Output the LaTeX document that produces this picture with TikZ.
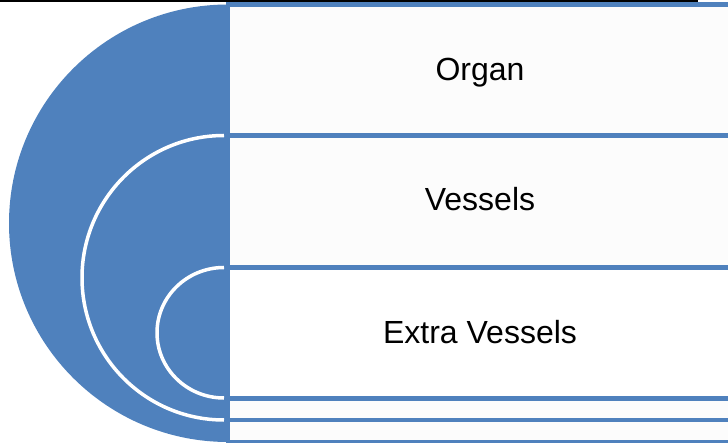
\documentclass[tikz,border=0pt]{standalone}
\usepackage{fontspec}
\setmainfont{Liberation Sans}
\usepackage{xcolor}
\usetikzlibrary{calc}
\definecolor{tgtblue}{RGB}{79,129,189}
\definecolor{bandfill}{RGB}{252,252,252}

\begin{document}
\begin{tikzpicture}[x=1pt,y=1pt]
        \tikzstyle{every node}=[font=\fontsize{32}{38}\selectfont, inner sep=0pt, anchor=base]
        \tikzstyle{band}=[draw=tgtblue, fill=bandfill, line width=4.5pt]
        \tikzstyle{disk}=[fill=tgtblue]
        \tikzstyle{rim}=[draw=white, line width=3.5pt]
        \useasboundingbox (0,0) rectangle (728,442);
        \fill[black] (0,439.5) rectangle (698,442);

        \coordinate (c1) at (228,218.75);
        \coordinate (c2) at (228,164.25);
        \coordinate (c3) at (228,109.25);

        \draw[band] (228,0) rectangle (740,437.5);
        \fill[disk] ($(c1)+(0,218.75)$) arc[start angle=90, end angle=270, x radius=219, y radius=218.75] -- cycle;

        \draw[band] (228,22) rectangle (740,306.5);
        \fill[disk] ($(c2)+(0,142.25)$) arc[start angle=90, end angle=270, x radius=146, y radius=142.25] -- cycle;
        \draw[rim] ($(c2)+(-4,142.25)$) arc[start angle=90, end angle=270, x radius=142, y radius=142.25];

        \draw[band, fill=white] (228,43.5) rectangle (740,174.5);
        \fill[disk] ($(c3)+(0,65.25)$) arc[start angle=90, end angle=270, x radius=71, y radius=65.25] -- cycle;
        \draw[rim] ($(c3)+(-4,65.25)$) arc[start angle=90, end angle=270, x radius=67, y radius=65.25];

        \node (organ) at (480,361) {Organ};
        \node (vessels) at (480,231) {Vessels};
        \node (extra) at (480,99) {Extra Vessels};
    \end{tikzpicture}
\end{document}
